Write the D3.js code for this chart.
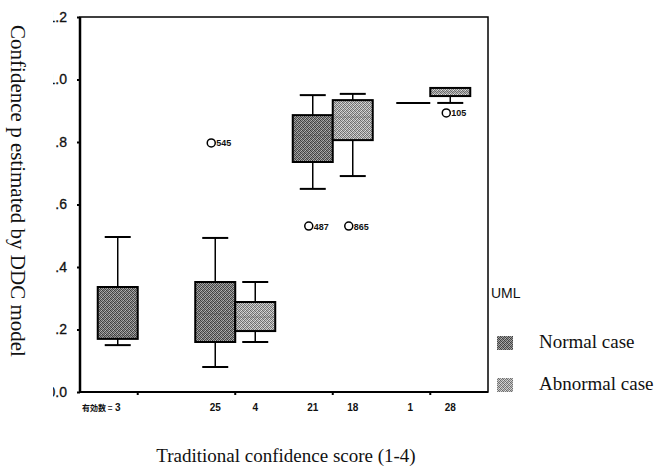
<!DOCTYPE html>
<html>
<head>
<meta charset="utf-8">
<script src="https://cdn.jsdelivr.net/npm/d3@7"></script>
<style>
  html, body { margin: 0; padding: 0; background: #fff; }
  svg { display: block; }
</style>
</head>
<body>
<svg id="chart" width="663" height="474"></svg>
<script>
// Traditional confidence score groups (1-4)
const categories = ["1", "2", "3", "4"];
const seriesNames = ["Normal case", "Abnormal case"];

// Five-number summaries per group: [low whisker, Q1, median, Q3, high whisker]
const normalBoxes = [
  [0.150, 0.170, 0.180, 0.336, 0.496],
  [0.080, 0.160, 0.250, 0.352, 0.493],
  [0.650, 0.736, 0.820, 0.886, 0.950],
  [0.925, 0.925, 0.925, 0.925, 0.925]
];
const abnormalBoxes = [
  null,
  [0.160, 0.195, 0.240, 0.288, 0.352],
  [0.691, 0.806, 0.880, 0.934, 0.954],
  [0.925, 0.947, 0.960, 0.973, 0.973]
];

// Valid case counts per group
const normalCounts = [3, 25, 21, 1];
const abnormalCounts = [null, 4, 18, 28];

// Outlying cases (case number shown beside each)
const normalOutliers = [
  { cat: "2", value: 0.797, id: "545" },
  { cat: "3", value: 0.531, id: "487" }
];
const abnormalOutliers = [
  { cat: "3", value: 0.531, id: "865" },
  { cat: "4", value: 0.893, id: "105" }
];

const yTickValues = [0, 0.2, 0.4, 0.6, 0.8, 1.0, 1.2];
const yTickLabels = ["0.0", ".2", ".4", ".6", ".8", "1.0", "1.2"];

const svg = d3.select("#chart");
const plot = { left: 80, right: 488, top: 17, bottom: 392 };

const x = d3.scaleBand().domain(categories)
  .range([plot.left, plot.right]).paddingOuter(0.092).paddingInner(0);
const y = d3.scaleLinear().domain([0, 1.2]).range([plot.bottom, plot.top]);
const sub = d3.scaleBand().domain(seriesNames).range([-40, 40]).padding(0);

// Fine dithered fills for the two series (fixed 4x4 shade matrices)
const defs = svg.append("defs");
function dither(id, shades) {
  const p = defs.append("pattern").attr("id", id)
    .attr("patternUnits", "userSpaceOnUse").attr("width", 4).attr("height", 4);
  shades.forEach((row, r) => row.forEach((c, k) => {
    p.append("rect").attr("x", k).attr("y", r).attr("width", 1).attr("height", 1).attr("fill", c);
  }));
}
dither("fillNormal", [
  ["#3c3c3c", "#9a9a9a", "#5a5a5a", "#b0b0b0"],
  ["#8c8c8c", "#444", "#a4a4a4", "#505050"],
  ["#555", "#b8b8b8", "#3a3a3a", "#8a8a8a"],
  ["#a8a8a8", "#4c4c4c", "#949494", "#404040"]
]);
dither("fillAbnormal", [
  ["#6a6a6a", "#c8c8c8", "#8a8a8a", "#dcdcdc"],
  ["#bcbcbc", "#707070", "#d0d0d0", "#7c7c7c"],
  ["#848484", "#e0e0e0", "#686868", "#b8b8b8"],
  ["#d4d4d4", "#7a7a7a", "#c0c0c0", "#6c6c6c"]
]);
const fills = { "Normal case": "url(#fillNormal)", "Abnormal case": "url(#fillAbnormal)" };

// Frame
svg.append("rect")
  .attr("x", plot.left).attr("y", plot.top)
  .attr("width", plot.right - plot.left).attr("height", plot.bottom - plot.top)
  .attr("fill", "none").attr("stroke", "#000").attr("stroke-width", 1.5);
svg.append("line")
  .attr("x1", plot.left).attr("x2", plot.left)
  .attr("y1", plot.top).attr("y2", plot.bottom)
  .attr("stroke", "#000").attr("stroke-width", 2.5);
svg.append("line")
  .attr("x1", plot.left).attr("x2", plot.right)
  .attr("y1", plot.bottom).attr("y2", plot.bottom)
  .attr("stroke", "#000").attr("stroke-width", 2);

// Y axis ticks and labels (leading digits clipped at the margin)
defs.append("clipPath").attr("id", "yLabelClip")
  .append("rect").attr("x", 53).attr("y", 0).attr("width", 30).attr("height", 474);
const yAxis = svg.append("g")
  .attr("transform", `translate(${plot.left},0)`)
  .call(d3.axisLeft(y).tickValues(yTickValues)
    .tickFormat((d, i) => yTickLabels[i]).tickSize(3).tickPadding(10));
yAxis.select(".domain").remove();
yAxis.selectAll(".tick line").attr("stroke", "#000").attr("stroke-width", 2);
yAxis.selectAll(".tick text")
  .attr("font-family", "Liberation Sans, Arial, sans-serif")
  .attr("font-size", 14).attr("fill", "#111").attr("stroke", "#111").attr("stroke-width", 0.3);
svg.append("g").attr("clip-path", "url(#yLabelClip)").node().appendChild(yAxis.node());

// X axis ticks at group centres
const xAxis = svg.append("g")
  .attr("transform", `translate(0,${plot.bottom})`)
  .call(d3.axisBottom(x).tickSize(3).tickFormat(""));
xAxis.select(".domain").remove();
xAxis.selectAll(".tick line").attr("stroke", "#000").attr("stroke-width", 2);

// Boxes
const boxW = sub.bandwidth();
const capW = 26;
const centre = (cat, name) => x(cat) + x.bandwidth() / 2 + sub(name) + boxW / 2;
function drawBoxes(boxes, name) {
  const g = svg.append("g");
  boxes.forEach((b, i) => {
    if (!b) return;
    const cx = centre(categories[i], name);
    const [lo, q1, med, q3, hi] = b;
    if (q1 === q3) {
      g.append("line")
        .attr("x1", cx - boxW / 2 + 6).attr("x2", cx + boxW / 2)
        .attr("y1", y(med)).attr("y2", y(med))
        .attr("stroke", "#000").attr("stroke-width", 2);
      return;
    }
    g.append("line").attr("x1", cx).attr("x2", cx)
      .attr("y1", y(hi)).attr("y2", y(q3)).attr("stroke", "#000").attr("stroke-width", 1.5);
    g.append("line").attr("x1", cx).attr("x2", cx)
      .attr("y1", y(q1)).attr("y2", y(lo)).attr("stroke", "#000").attr("stroke-width", 1.5);
    [hi, lo].forEach(v => {
      if (v === q3 || v === q1) return;
      g.append("line")
        .attr("x1", cx - capW / 2).attr("x2", cx + capW / 2)
        .attr("y1", y(v)).attr("y2", y(v))
        .attr("stroke", "#000").attr("stroke-width", 2);
    });
    g.append("rect")
      .attr("x", cx - boxW / 2).attr("y", y(q3))
      .attr("width", boxW).attr("height", y(q1) - y(q3))
      .attr("fill", fills[name]).attr("stroke", "#000").attr("stroke-width", 2);
    g.append("line")
      .attr("x1", cx - boxW / 2 + 1).attr("x2", cx + boxW / 2 - 1)
      .attr("y1", y(med)).attr("y2", y(med))
      .attr("stroke", "#444").attr("stroke-opacity", 0.35).attr("stroke-width", 1);
  });
}
drawBoxes(normalBoxes, "Normal case");
drawBoxes(abnormalBoxes, "Abnormal case");

// Outliers
function drawOutliers(list, name) {
  list.forEach(o => {
    const cx = centre(o.cat, name);
    svg.append("circle").attr("cx", cx - 4).attr("cy", y(o.value)).attr("r", 4)
      .attr("fill", "#fff").attr("stroke", "#000").attr("stroke-width", 1.5);
    svg.append("text").attr("x", cx + 1).attr("y", y(o.value) + 3.5)
      .attr("font-family", "Liberation Sans, Arial, sans-serif")
      .attr("font-size", 9).attr("font-weight", "bold").attr("fill", "#111")
      .text(o.id);
  });
}
drawOutliers(normalOutliers, "Normal case");
drawOutliers(abnormalOutliers, "Abnormal case");

// Valid N row
const countFont = "Liberation Sans, Arial, sans-serif";
svg.append("text").attr("x", 82).attr("y", 411)
  .attr("font-family", "Noto Sans CJK JP, sans-serif").attr("font-size", 8)
  .attr("font-weight", "bold").attr("fill", "#111").text("有効数 =");
function drawCounts(counts, name) {
  counts.forEach((n, i) => {
    if (n == null) return;
    svg.append("text").attr("x", centre(categories[i], name)).attr("y", 411)
      .attr("text-anchor", "middle")
      .attr("font-family", countFont).attr("font-size", 10).attr("font-weight", "bold")
      .attr("fill", "#111").text(n);
  });
}
drawCounts(normalCounts, "Normal case");
drawCounts(abnormalCounts, "Abnormal case");

// Axis titles
svg.append("text")
  .attr("transform", "translate(11,191) rotate(90)")
  .attr("text-anchor", "middle")
  .attr("font-family", "Liberation Serif, Times New Roman, serif")
  .attr("font-size", 21).attr("fill", "#111")
  .text("Confidence p estimated by DDC model");
svg.append("text")
  .attr("x", 286).attr("y", 462).attr("text-anchor", "middle")
  .attr("font-family", "Liberation Serif, Times New Roman, serif")
  .attr("font-size", 19).attr("fill", "#111")
  .text("Traditional confidence score (1-4)");

// Legend
svg.append("text").attr("x", 491).attr("y", 298)
  .attr("font-family", "Liberation Sans, Arial, sans-serif")
  .attr("font-size", 14).attr("fill", "#111").text("UML");
const legend = svg.append("g");
seriesNames.forEach((name, i) => {
  const ly = 336 + i * 42;
  legend.append("rect").attr("x", 497).attr("y", ly).attr("width", 16).attr("height", 14)
    .attr("fill", fills[name]);
  legend.append("text").attr("x", 539).attr("y", ly + 12)
    .attr("font-family", "Liberation Serif, Times New Roman, serif")
    .attr("font-size", 19).attr("fill", "#111").text(name);
});
</script>
</body>
</html>
